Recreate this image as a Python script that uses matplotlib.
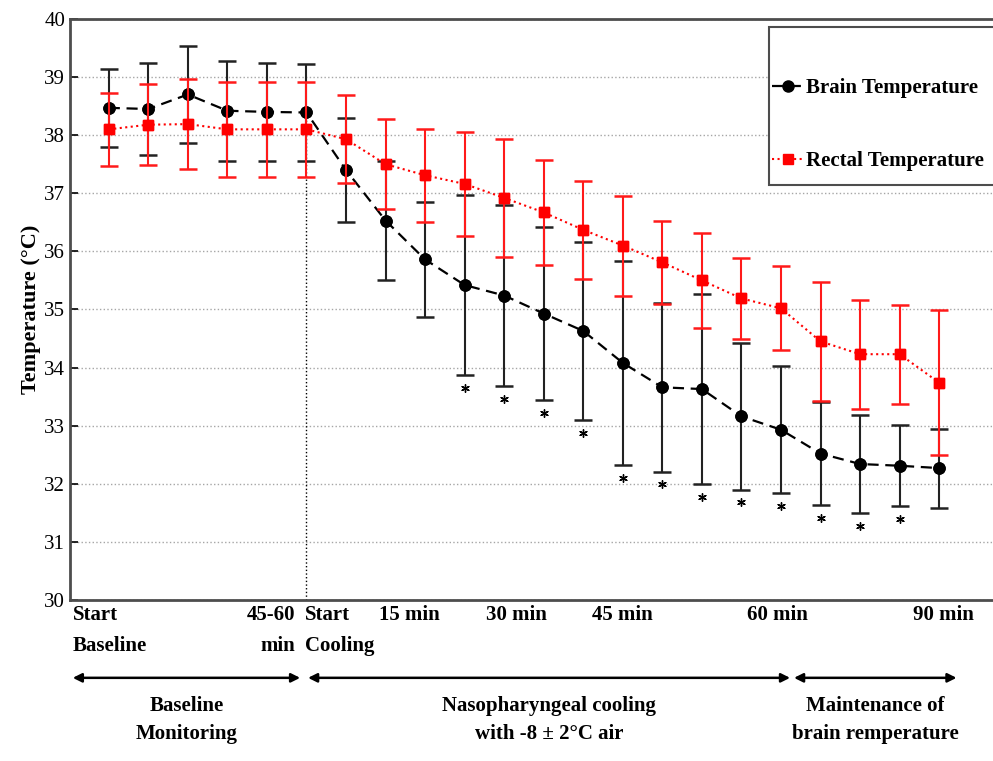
import numpy as np
import matplotlib
matplotlib.use("Agg")
from matplotlib import pyplot as plt
from matplotlib.patches import Rectangle

plt.rcParams['font.family'] = ['Liberation Serif', 'DejaVu Serif']

# mean and SD per time point (deg C)
brain_mean = [38.47, 38.45, 38.70, 38.42, 38.40, 38.39, 37.40, 36.53, 35.86, 35.42, 35.24,
              34.93, 34.63, 34.08, 33.66, 33.63, 33.16, 32.93, 32.52, 32.34, 32.31, 32.27]
brain_sd = [0.67, 0.80, 0.83, 0.86, 0.85, 0.84, 0.90, 1.03, 0.99, 1.55, 1.56,
            1.49, 1.53, 1.76, 1.45, 1.63, 1.26, 1.09, 0.89, 0.84, 0.70, 0.68]
rectal_mean = [38.10, 38.18, 38.19, 38.10, 38.10, 38.10, 37.93, 37.50, 37.31, 37.16, 36.92,
               36.67, 36.37, 36.10, 35.81, 35.50, 35.19, 35.02, 34.45, 34.23, 34.23, 33.74]
rectal_sd = [0.63, 0.70, 0.78, 0.82, 0.82, 0.82, 0.76, 0.77, 0.80, 0.89, 1.01,
             0.90, 0.84, 0.86, 0.72, 0.82, 0.70, 0.72, 1.03, 0.94, 0.85, 1.25]
# significant difference marks (brain vs rectal)
significant = [False] * 9 + [True] * 12 + [False]

cooling_start = 5

# time labels along the x axis: (text, position, alignment)
time_labels = [("Start\nBaseline", -0.91, "left"),
               ("45-60\nmin", 4.71, "right"),
               ("Start\nCooling", 4.96, "left"),
               ("15 min", 7.6, "center"),
               ("30 min", 10.3, "center"),
               ("45 min", 13.0, "center"),
               ("60 min", 16.9, "center"),
               ("90 min", 21.1, "center")]
phases = [("Baseline\nMonitoring", -0.91, 4.84),
          ("Nasopharyngeal cooling\nwith -8 \u00b1 2\u00b0C air", 5.04, 17.23),
          ("Maintenance of\nbrain remperature", 17.33, 21.44)]

x = np.arange(len(brain_mean))
brain_mean = np.array(brain_mean)
brain_sd = np.array(brain_sd)

fig = plt.figure(figsize=(9.93, 7.61), dpi=100)
ax = fig.add_axes([0.0705, 0.2116, 0.935, 0.7635])

ax.yaxis.grid(True, linestyle=':', color='0.65', lw=1)
ax.set_axisbelow(True)

ax.plot([cooling_start, cooling_start], [30, brain_mean[cooling_start]], ':', color='k', lw=1, zorder=1)

ax.errorbar(x, brain_mean, yerr=brain_sd, fmt='o', color='k', ecolor='#222222',
            elinewidth=1.5, capsize=6.5, capthick=1.8, markersize=8, zorder=2)
ax.plot(x, brain_mean, color='k', ls=(0, (5, 3)), lw=1.6, zorder=2,
        marker='o', markersize=8, label='Brain Temperature')
ax.errorbar(x, rectal_mean, yerr=rectal_sd, fmt='s', color='#ff0000', ecolor='#ff1a1a',
            elinewidth=1.5, capsize=6.5, capthick=1.8, markersize=7.5, zorder=3)
ax.plot(x, rectal_mean, color='#ff0000', ls=':', lw=1.5, zorder=3,
        marker='s', markersize=7.5, label='Rectal Temperature')

sx = x[significant]
sy = (brain_mean - brain_sd)[significant] - 0.22
ax.scatter(sx, sy, marker=(6, 2, 0), s=30, color='k', lw=1, zorder=3)

ax.set_xlim(-0.98, 22.5)
ax.set_ylim(30, 40)
ax.set_yticks(range(30, 41))
ax.set_xticks([])
ax.tick_params(axis='y', direction='in', length=6, labelsize=15, width=1.2)
for side in ['left', 'bottom', 'top']:
    ax.spines[side].set_linewidth(2)
    ax.spines[side].set_color('0.3')
ax.spines['right'].set_visible(False)
ax.set_ylabel("Temperature (\u00b0C)", fontsize=16, fontweight='bold', labelpad=2)

tr = ax.get_xaxis_transform()
for text, pos, ha in time_labels:
    ax.text(pos, -0.008, text, transform=tr, ha=ha, va='top', fontsize=15,
            fontweight='bold', linespacing=1.75, clip_on=False)

for text, x0, x1 in phases:
    ax.annotate("", xy=(x0, -0.134), xytext=(x1, -0.134), xycoords=tr, textcoords=tr,
                arrowprops=dict(arrowstyle='<|-|>', color='k', lw=1.8,
                                mutation_scale=13, shrinkA=0, shrinkB=0))
    ax.text((x0 + x1) / 2, -0.165, text, transform=tr, ha='center', va='top',
            fontsize=15, fontweight='bold', linespacing=1.55, clip_on=False)

box = Rectangle((0.7744, 0.7569), 0.24, 0.2076, transform=fig.transFigure,
                facecolor='white', edgecolor='0.3', lw=1.5, clip_on=False, zorder=10)
ax.add_patch(box)
leg = ax.legend(loc='upper left', bbox_to_anchor=(0.7775, 0.8975),
                bbox_transform=fig.transFigure, frameon=False,
                prop={'weight': 'bold', 'size': 15}, handlelength=1.5,
                handletextpad=0.15, labelspacing=2.55, borderpad=0, borderaxespad=0)
leg.set_zorder(11)

fig.savefig("out.png", dpi=100)
